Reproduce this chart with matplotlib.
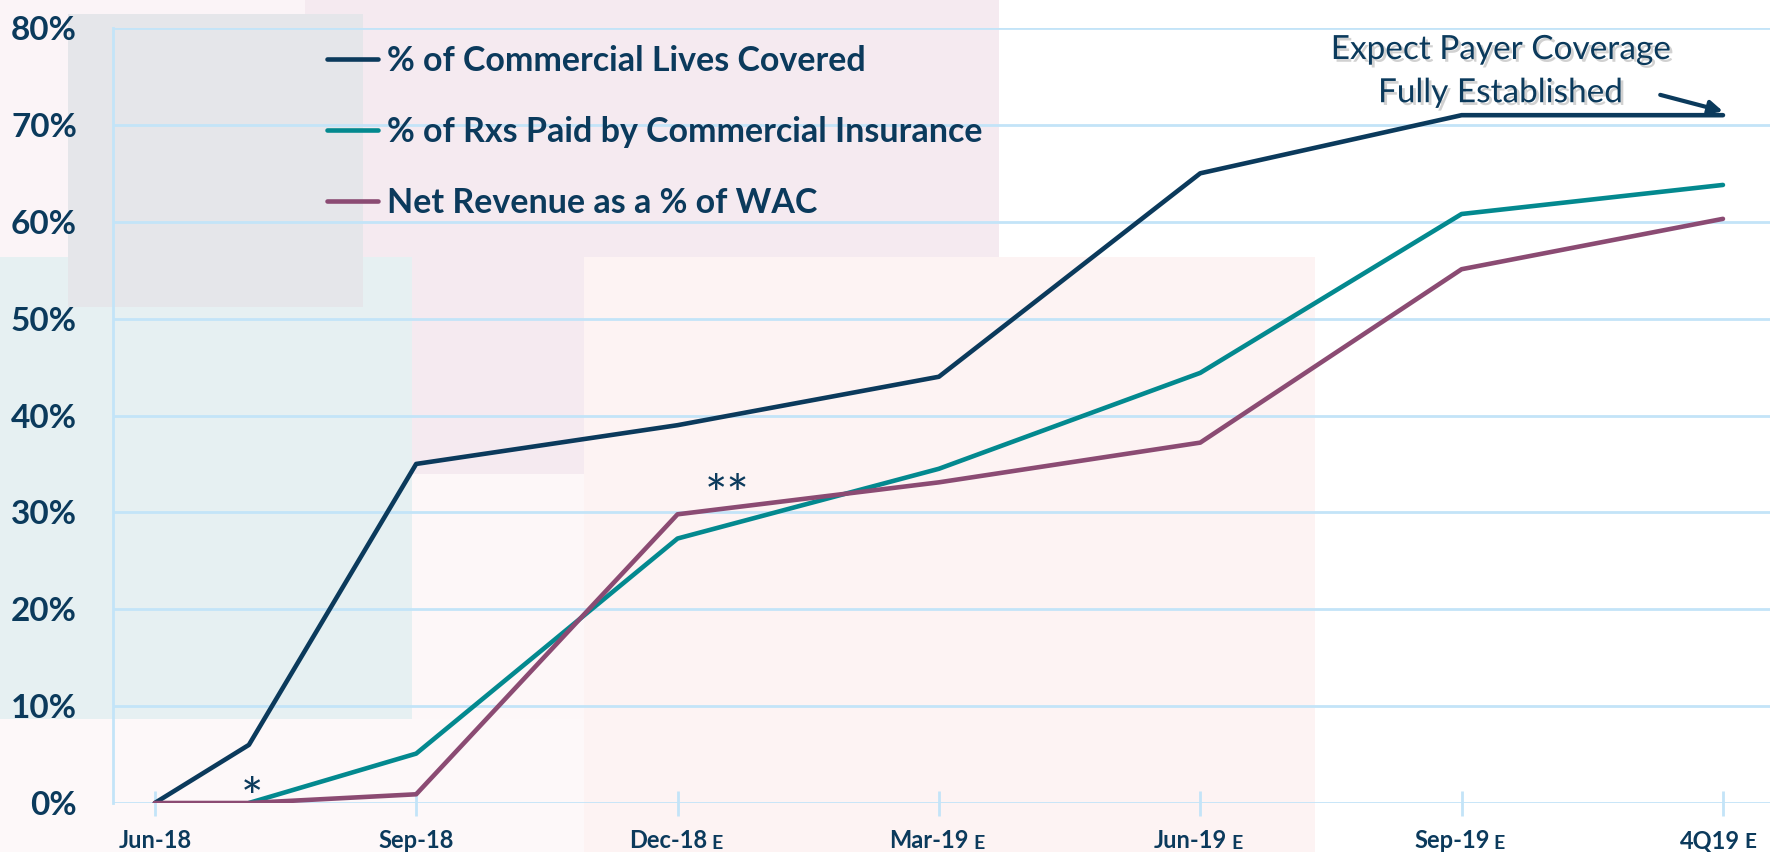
import matplotlib
matplotlib.use("Agg")
import matplotlib.pyplot as plt
import matplotlib.patches as mpatches
import matplotlib.patheffects as pe

plt.rcParams['font.family'] = ['Lato', 'DejaVu Sans']

# Daten
quarters = ["Jun-18", "Sep-18", "Dec-18", "Mar-19", "Jun-19", "Sep-19", "4Q19"]
estimate = [False, False, True, True, True, True, True]
quarter_x = [0, 1, 2, 3, 4, 5, 6]

lives_x = [0, 0.36, 1, 2, 3, 4, 5, 6]
lives = [0, 6, 35, 39, 44, 65, 71, 71]

rxs_x = [0.36, 1, 2, 3, 4, 5, 6]
rxs = [0, 5.1, 27.3, 34.5, 44.4, 60.8, 63.8]

net_x = [0, 0.36, 1, 2, 3, 4, 5, 6]
net = [0, 0, 0.9, 29.8, 33.1, 37.2, 55.1, 60.3]

labels = ["% of Commercial Lives Covered",
          "% of Rxs Paid by Commercial Insurance",
          "Net Revenue as a % of WAC"]

navy = "#0B3A5C"
teal = "#03898F"
plum = "#8B4B73"
grid_c = "#C3E4F8"

fig = plt.figure(figsize=(17.7, 8.52), dpi=100)

# blasse Hintergrundflächen (Koordinaten im angezeigten Bild 1568x755)
W, H = 1568, 755
boxes = [
    ((0, 0, 270, 228), "#FBF4F7"),
    ((270, 0, 885, 420), "#F5EAF0"),
    ((0, 228, 365, 637), "#E6F0F2"),
    ((0, 637, 517, 755), "#FDF8F9"),
    ((365, 420, 517, 637), "#FDF7F8"),
    ((60, 12, 322, 272), "#E5E6EA"),
    ((517, 228, 1165, 755), "#FDF3F3"),
]
for (x0, y0, x1, y1), c in boxes:
    fig.patches.append(mpatches.Rectangle((x0 / W, 1 - y1 / H), (x1 - x0) / W, (y1 - y0) / H,
                                          transform=fig.transFigure, facecolor=c,
                                          edgecolor="none", zorder=-5))

ax = fig.add_axes([113 / 1770, 49 / 852, 1 - 113 / 1770, 775 / 852])
ax.patch.set_alpha(0)

kw = dict(lw=3.3, solid_capstyle="round", zorder=5)
ax.plot(lives_x, lives, color=navy, label=labels[0], **kw)
ax.plot(rxs_x, rxs, color=teal, label=labels[1], **kw)
ax.plot(net_x, net, color=plum, label=labels[2], **kw)

ax.set_xlim(-0.16, 6.18)
ax.set_ylim(0, 80)

ax.set_yticks(range(0, 81, 10))
ax.set_yticklabels([f"{v}%" for v in range(0, 81, 10)], fontsize=24,
                   fontweight="bold", color=navy)
ax.tick_params(axis="y", length=0, pad=26)
ax.yaxis.grid(True, color=grid_c, lw=2, zorder=0)
ax.set_axisbelow(True)

ax.set_xticks(quarter_x)
ax.set_xticklabels([])
ax.tick_params(axis="x", direction="inout", length=18, width=2, color=grid_c)

for s in ["top", "right", "bottom"]:
    ax.spines[s].set_visible(False)
ax.spines["left"].set_color(grid_c)
ax.spines["left"].set_linewidth(2)

# x-Beschriftung mit kleinem "E"
for x, q, e in zip(quarter_x, quarters, estimate):
    off = -7 if e else 0
    if q == "4Q19":
        off = -9
    t = ax.annotate(q, xy=(x, 0), xytext=(off, -27), textcoords="offset points",
                    ha="center", va="center", fontsize=17, fontweight="bold",
                    color=navy, annotation_clip=False)
    if e:
        ax.annotate("E", xy=(1, 0), xycoords=t, xytext=(3, 0),
                    textcoords="offset points", ha="left", va="bottom",
                    fontsize=14 if q != "4Q19" else 15, fontweight="bold", color=navy)

leg = ax.legend(loc="upper left", bbox_to_anchor=(327 / 1770, 1 - 45 / 852),
                bbox_transform=fig.transFigure, frameon=False,
                prop=dict(size=24.5, weight="bold"), labelcolor=navy,
                handlelength=1.5, handletextpad=0.25, labelspacing=1.15,
                borderpad=0, borderaxespad=0)

ax.text(0.37, -2.3, "*", fontsize=38, color=navy, ha="center", va="bottom")
ax.text(2.19, 29.0, "**", fontsize=38, color=navy, ha="center", va="bottom")

shadow = [pe.SimplePatchShadow(offset=(2, -2), shadow_rgbFace="#000000", alpha=0.18), pe.Normal()]
ax.text(5.15, 75.5, "Expect Payer Coverage\nFully Established", fontsize=24,
        color=navy, ha="center", va="center", linespacing=1.55, path_effects=shadow)
ax.annotate("", xy=(6.0, 71.4), xytext=(5.76, 73.1),
            arrowprops=dict(arrowstyle="-|>", color=navy, lw=3, mutation_scale=20,
                            shrinkA=0, shrinkB=0))

fig.savefig("out.png", dpi=100)
